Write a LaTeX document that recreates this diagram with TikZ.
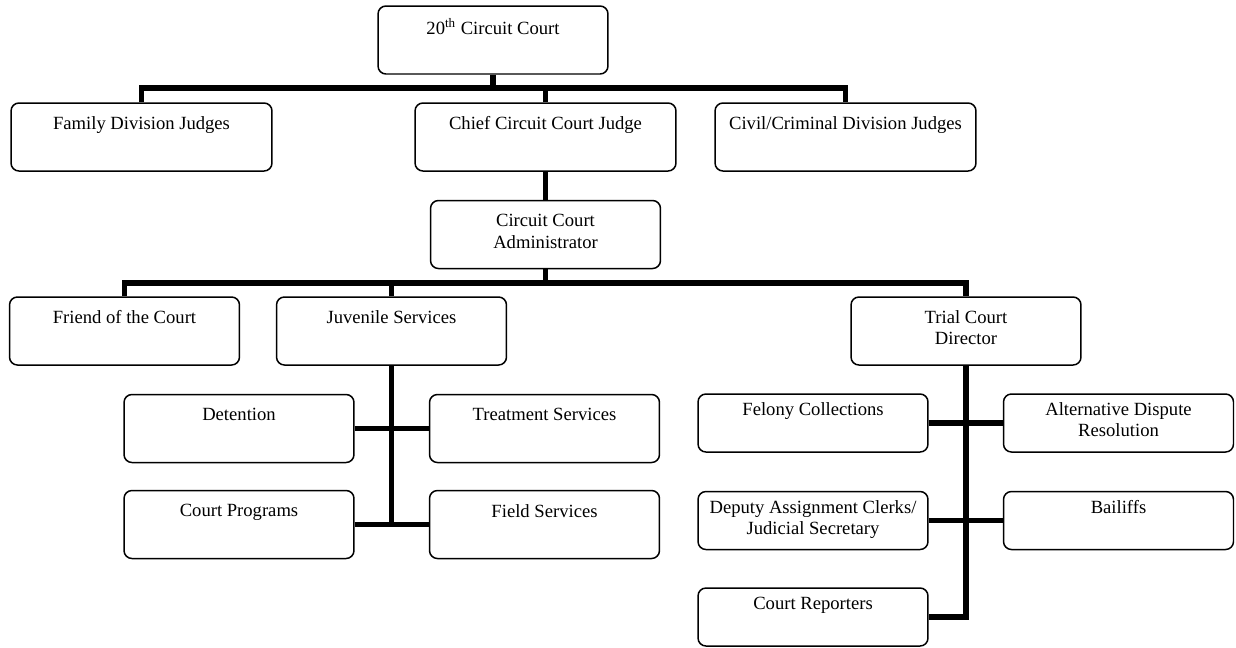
\documentclass[tikz,border=0pt]{standalone}
\usepackage{fontspec}
\setmainfont{Liberation Serif}
\usepackage{tikz}
\usetikzlibrary{positioning}
\tikzset{
  box/.style ={draw, rounded corners=4.5pt, line width=0.85pt, fill=white,
               align=center, inner sep=2pt, minimum width=4.6cm,
               minimum height=1.36cm, execute at begin node=\strut,
               font=\fontsize{10.6}{12.2}\selectfont},
  wbox/.style={box, minimum width=5.22cm},
  sbox/.style={box, minimum height=1.16cm},
  conn/.style={line width=3pt, line join=miter},
}
\begin{document}
\begin{tikzpicture}[x=0.02cm, y=-0.02cm]
  \useasboundingbox (0,0) rectangle (1236,647);
  \coordinate (bar1) at (0,88);
  \coordinate (bar2) at (0,283);
  % top levels
  \node[box] (court) at (493,40) {20\textsuperscript{th} Circuit Court\\ \strut};
  \node[wbox] (family) at (141.5,137) {Family Division Judges\\ \strut};
  \node[wbox] (chief) at (545.5,137) {Chief Circuit Court Judge\\ \strut};
  \node[wbox] (civil) at (845.5,137) {Civil/Criminal Division Judges\\ \strut};
  \node[box] (admin) at (545.5,234.5) {Circuit Court\\Administrator};
  \node[box] (friend) at (124.5,331) {Friend of the Court\\ \strut};
  \node[box] (juvenile) at (391.5,331) {Juvenile Services\\ \strut};
  \node[box] (trial) at (966,331) {Trial Court\\Director};
  % juvenile services
  \node[box] (detention) at (239,428.5) {Detention\\ \strut};
  \node[box] (treatment) at (544.5,428.5) {Treatment Services\\ \strut};
  \node[box] (programs) at (239,524.5) {Court Programs\\ \strut};
  \node[box] (field) at (544.5,524.5) {Field Services\\ \strut};
  % trial court director
  \node[sbox] (felony) at (813,423) {Felony Collections\\ \strut};
  \node[sbox] (adr) at (1118.5,423) {Alternative Dispute\\Resolution};
  \node[sbox] (deputy) at (813,520.5) {Deputy Assignment Clerks/\\Judicial Secretary};
  \node[sbox] (bailiffs) at (1118.5,520.5) {Bailiffs\\ \strut};
  \node[sbox] (reporters) at (813,617) {Court Reporters\\ \strut};
  % connectors
  \draw[conn] (family.north) |- (civil.north |- bar1) -- (civil.north);
  \draw[conn] (court.south) -- (court.south |- bar1);
  \draw[conn] (chief.north) -- (chief.north |- bar1);
  \draw[conn] (chief.south) -- (admin.north);
  \draw[conn] (friend.north) |- (trial.north |- bar2) -- (trial.north);
  \draw[conn] (admin.south) -- (admin.south |- bar2);
  \draw[conn] (juvenile.north) -- (juvenile.north |- bar2);
  \draw[conn] (juvenile.south) -- (juvenile.south |- programs.east);
  \draw[conn] (detention.east) -- (treatment.west);
  \draw[conn] (programs.east) -- (field.west);
  \draw[conn] (trial.south) |- (reporters.east);
  \draw[conn] (felony.east) -- (adr.west);
  \draw[conn] (deputy.east) -- (bailiffs.west);
\end{tikzpicture}
\end{document}
